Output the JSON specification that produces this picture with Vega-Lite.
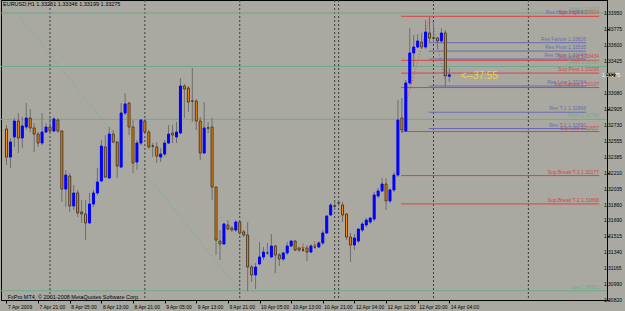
{
  "$schema": "https://vega.github.io/schema/vega-lite/v6.json",
  "width": 606,
  "height": 300,
  "autosize": {"type": "none"},
  "padding": {"left": 1, "top": 0, "right": 18, "bottom": 11},
  "background": "#a9a9a1",
  "config": {
    "view": {"stroke": "black", "strokeWidth": 1},
    "font": "Liberation Sans Narrow, Liberation Sans, sans-serif",
    "axis": {"labelFont": "Liberation Sans Narrow, Liberation Sans, sans-serif", "labelFontSize": 5, "labelColor": "#000000", "tickColor": "#000000", "domainColor": "#000000", "grid": false, "title": null, "labelOverlap": false, "labelFlush": false, "labelBound": false}
  },
  "title": {"text": "EURUSD,H1  1.33261 1.33346 1.33199 1.33275", "anchor": "start", "frame": "group", "orient": "top", "offset": -8, "fontSize": 5.5, "fontWeight": "normal", "color": "#000000", "font": "Liberation Sans Narrow, Liberation Sans, sans-serif", "dx": 2},
  "datasets": {
    "candles": [
      {"i":0,"o":1.32685,"h":1.32728,"l":1.32292,"c":1.32379},
      {"i":1,"o":1.32379,"h":1.32587,"l":1.32260,"c":1.32543},
      {"i":2,"o":1.32598,"h":1.32805,"l":1.32489,"c":1.32772},
      {"i":3,"o":1.32772,"h":1.32859,"l":1.32423,"c":1.32587},
      {"i":4,"o":1.32587,"h":1.32816,"l":1.32478,"c":1.32718},
      {"i":5,"o":1.32707,"h":1.32968,"l":1.32674,"c":1.32805},
      {"i":6,"o":1.32805,"h":1.32903,"l":1.32652,"c":1.32696},
      {"i":7,"o":1.32696,"h":1.32750,"l":1.32434,"c":1.32630},
      {"i":8,"o":1.32630,"h":1.32652,"l":1.32489,"c":1.32532},
      {"i":9,"o":1.32532,"h":1.32859,"l":1.32510,"c":1.32652},
      {"i":10,"o":1.32652,"h":1.32750,"l":1.32641,"c":1.32707},
      {"i":11,"o":1.32707,"h":1.32805,"l":1.32652,"c":1.32663},
      {"i":12,"o":1.32663,"h":1.32816,"l":1.32652,"c":1.32794},
      {"i":13,"o":1.32783,"h":1.32805,"l":1.32641,"c":1.32663},
      {"i":14,"o":1.32663,"h":1.32674,"l":1.31889,"c":1.32030},
      {"i":15,"o":1.32030,"h":1.32238,"l":1.31834,"c":1.32183},
      {"i":16,"o":1.32172,"h":1.32205,"l":1.31780,"c":1.31845},
      {"i":17,"o":1.31845,"h":1.32074,"l":1.31801,"c":1.31987},
      {"i":18,"o":1.31987,"h":1.32020,"l":1.31725,"c":1.31769},
      {"i":19,"o":1.31780,"h":1.31911,"l":1.31660,"c":1.31758},
      {"i":20,"o":1.31758,"h":1.31911,"l":1.31474,"c":1.31660},
      {"i":21,"o":1.31660,"h":1.31987,"l":1.31649,"c":1.31867},
      {"i":22,"o":1.31867,"h":1.32020,"l":1.31834,"c":1.31987},
      {"i":23,"o":1.31987,"h":1.32260,"l":1.31965,"c":1.32107},
      {"i":24,"o":1.32118,"h":1.32565,"l":1.32107,"c":1.32499},
      {"i":25,"o":1.32489,"h":1.32619,"l":1.32150,"c":1.32161},
      {"i":26,"o":1.32150,"h":1.32707,"l":1.32140,"c":1.32630},
      {"i":27,"o":1.32630,"h":1.32674,"l":1.32532,"c":1.32543},
      {"i":28,"o":1.32543,"h":1.32554,"l":1.32150,"c":1.32281},
      {"i":29,"o":1.32270,"h":1.32968,"l":1.32260,"c":1.32859},
      {"i":30,"o":1.32859,"h":1.33077,"l":1.32838,"c":1.32958},
      {"i":31,"o":1.32968,"h":1.32979,"l":1.32619,"c":1.32707},
      {"i":32,"o":1.32707,"h":1.32783,"l":1.32205,"c":1.32314},
      {"i":33,"o":1.32325,"h":1.32565,"l":1.32238,"c":1.32532},
      {"i":34,"o":1.32532,"h":1.32794,"l":1.32510,"c":1.32783},
      {"i":35,"o":1.32772,"h":1.32794,"l":1.32641,"c":1.32652},
      {"i":36,"o":1.32652,"h":1.32674,"l":1.32467,"c":1.32489},
      {"i":37,"o":1.32499,"h":1.32532,"l":1.32379,"c":1.32499},
      {"i":38,"o":1.32489,"h":1.32543,"l":1.32314,"c":1.32390},
      {"i":39,"o":1.32379,"h":1.32478,"l":1.32325,"c":1.32412},
      {"i":40,"o":1.32412,"h":1.32565,"l":1.32390,"c":1.32532},
      {"i":41,"o":1.32532,"h":1.32728,"l":1.32521,"c":1.32630},
      {"i":42,"o":1.32641,"h":1.32728,"l":1.32532,"c":1.32619},
      {"i":43,"o":1.32598,"h":1.32761,"l":1.32532,"c":1.32652},
      {"i":44,"o":1.32641,"h":1.33241,"l":1.32630,"c":1.33154},
      {"i":45,"o":1.33154,"h":1.33176,"l":1.32805,"c":1.33121},
      {"i":46,"o":1.33132,"h":1.33154,"l":1.32870,"c":1.32979},
      {"i":47,"o":1.32990,"h":1.33350,"l":1.32761,"c":1.32990},
      {"i":48,"o":1.32990,"h":1.33012,"l":1.32674,"c":1.32772},
      {"i":49,"o":1.32772,"h":1.32816,"l":1.32347,"c":1.32423},
      {"i":50,"o":1.32423,"h":1.32979,"l":1.32412,"c":1.32696},
      {"i":51,"o":1.32696,"h":1.32761,"l":1.32641,"c":1.32696},
      {"i":52,"o":1.32707,"h":1.32805,"l":1.31911,"c":1.32052},
      {"i":53,"o":1.32052,"h":1.32052,"l":1.31311,"c":1.31474},
      {"i":54,"o":1.31463,"h":1.31583,"l":1.31256,"c":1.31431},
      {"i":55,"o":1.31431,"h":1.31660,"l":1.31420,"c":1.31649},
      {"i":56,"o":1.31638,"h":1.31692,"l":1.31583,"c":1.31594},
      {"i":57,"o":1.31605,"h":1.31627,"l":1.31562,"c":1.31583},
      {"i":58,"o":1.31583,"h":1.31692,"l":1.31562,"c":1.31671},
      {"i":59,"o":1.31671,"h":1.31681,"l":1.31529,"c":1.31551},
      {"i":60,"o":1.31562,"h":1.31583,"l":1.31507,"c":1.31529},
      {"i":61,"o":1.31529,"h":1.31671,"l":1.30918,"c":1.31180},
      {"i":62,"o":1.31180,"h":1.31202,"l":1.31016,"c":1.31093},
      {"i":63,"o":1.31093,"h":1.31224,"l":1.30940,"c":1.31180},
      {"i":64,"o":1.31213,"h":1.31452,"l":1.31202,"c":1.31289},
      {"i":65,"o":1.31289,"h":1.31398,"l":1.31256,"c":1.31343},
      {"i":66,"o":1.31333,"h":1.31442,"l":1.31311,"c":1.31333},
      {"i":67,"o":1.31289,"h":1.31540,"l":1.31278,"c":1.31409},
      {"i":68,"o":1.31409,"h":1.31420,"l":1.31114,"c":1.31311},
      {"i":69,"o":1.31311,"h":1.31333,"l":1.31191,"c":1.31267},
      {"i":70,"o":1.31267,"h":1.31343,"l":1.31245,"c":1.31333},
      {"i":71,"o":1.31333,"h":1.31452,"l":1.31311,"c":1.31409},
      {"i":72,"o":1.31409,"h":1.31474,"l":1.31398,"c":1.31463},
      {"i":73,"o":1.31463,"h":1.31474,"l":1.31354,"c":1.31365},
      {"i":74,"o":1.31387,"h":1.31398,"l":1.31343,"c":1.31365},
      {"i":75,"o":1.31365,"h":1.31398,"l":1.31343,"c":1.31365},
      {"i":76,"o":1.31387,"h":1.31420,"l":1.31245,"c":1.31343},
      {"i":77,"o":1.31343,"h":1.31431,"l":1.31333,"c":1.31409},
      {"i":78,"o":1.31398,"h":1.31431,"l":1.31376,"c":1.31398},
      {"i":79,"o":1.31398,"h":1.31463,"l":1.31387,"c":1.31442},
      {"i":80,"o":1.31442,"h":1.31583,"l":1.31420,"c":1.31551},
      {"i":81,"o":1.31551,"h":1.31747,"l":1.31540,"c":1.31736},
      {"i":82,"o":1.31747,"h":1.31878,"l":1.31736,"c":1.31856},
      {"i":83,"o":1.31845,"h":1.31900,"l":1.31801,"c":1.31845},
      {"i":84,"o":1.31878,"h":1.31911,"l":1.31845,"c":1.31878},
      {"i":85,"o":1.31856,"h":1.31889,"l":1.31671,"c":1.31747},
      {"i":86,"o":1.31758,"h":1.31769,"l":1.31474,"c":1.31507},
      {"i":87,"o":1.31507,"h":1.31551,"l":1.31234,"c":1.31420},
      {"i":88,"o":1.31420,"h":1.31540,"l":1.31365,"c":1.31496},
      {"i":89,"o":1.31463,"h":1.31605,"l":1.31442,"c":1.31594},
      {"i":90,"o":1.31583,"h":1.31671,"l":1.31562,"c":1.31649},
      {"i":91,"o":1.31638,"h":1.31714,"l":1.31616,"c":1.31692},
      {"i":92,"o":1.31671,"h":1.31725,"l":1.31649,"c":1.31714},
      {"i":93,"o":1.31703,"h":1.31998,"l":1.31681,"c":1.31965},
      {"i":94,"o":1.31954,"h":1.32041,"l":1.31932,"c":1.32009},
      {"i":95,"o":1.32009,"h":1.32150,"l":1.31998,"c":1.32085},
      {"i":96,"o":1.32085,"h":1.32150,"l":1.31801,"c":1.31900},
      {"i":97,"o":1.31900,"h":1.32041,"l":1.31878,"c":1.32020},
      {"i":98,"o":1.32020,"h":1.32216,"l":1.31998,"c":1.32183},
      {"i":99,"o":1.32183,"h":1.33001,"l":1.32161,"c":1.32783},
      {"i":100,"o":1.32805,"h":1.33023,"l":1.32641,"c":1.32674},
      {"i":101,"o":1.32663,"h":1.33219,"l":1.32652,"c":1.33187},
      {"i":102,"o":1.33187,"h":1.33786,"l":1.33165,"c":1.33514},
      {"i":103,"o":1.33514,"h":1.33710,"l":1.33361,"c":1.33579},
      {"i":104,"o":1.33579,"h":1.33721,"l":1.33568,"c":1.33645},
      {"i":105,"o":1.33634,"h":1.33732,"l":1.33557,"c":1.33579},
      {"i":106,"o":1.33579,"h":1.33874,"l":1.33557,"c":1.33743},
      {"i":107,"o":1.33732,"h":1.33906,"l":1.33634,"c":1.33677},
      {"i":108,"o":1.33677,"h":1.33841,"l":1.33634,"c":1.33677},
      {"i":109,"o":1.33677,"h":1.33688,"l":1.33557,"c":1.33645},
      {"i":110,"o":1.33645,"h":1.33786,"l":1.33623,"c":1.33732},
      {"i":111,"o":1.33732,"h":1.33765,"l":1.33143,"c":1.33263},
      {"i":112,"o":1.33261,"h":1.33346,"l":1.33199,"c":1.33275}
    ],
    "seps": [{"i":11},{"i":35},{"i":59},{"i":83},{"i":84},{"i":108},{"i":132}],
    "yticks": [{"p":1.3395},{"p":1.33775},{"p":1.336},{"p":1.33425},{"p":1.3308},{"p":1.32905},{"p":1.3273},{"p":1.32555},{"p":1.32385},{"p":1.3221},{"p":1.32035},{"p":1.3186},{"p":1.3169},{"p":1.31515},{"p":1.3134},{"p":1.31165},{"p":1.3099},{"p":1.3082}],
    "levels": [
      {"kind":"Main","label":"High 1.33950","p":1.33950},
      {"kind":"Main","label":"Pivot 1.33367","p":1.33367},
      {"kind":"Main","label":"Short 1.32790","p":1.32790},
      {"kind":"Main","label":"Low 1.30921","p":1.30921},
      {"kind":"Res","label":"Res Failure 1.33626","p":1.33626},
      {"kind":"Res","label":"Res Pivot 1.33535","p":1.33535},
      {"kind":"Res","label":"Res Short 1.33448","p":1.33448},
      {"kind":"Res","label":"Res Low 1.33154","p":1.33154},
      {"kind":"Res","label":"Res T-1 1.32868","p":1.32868},
      {"kind":"Res","label":"Res T-2 1.32690","p":1.32690},
      {"kind":"Sup","label":"Sup High 1.33914","p":1.33914},
      {"kind":"Sup","label":"Sup Long 1.33434","p":1.33434},
      {"kind":"Sup","label":"Sup Pivot 1.33295","p":1.33295},
      {"kind":"Sup","label":"Sup Failure 1.33137","p":1.33137},
      {"kind":"Sup","label":"Sup Low 1.32657","p":1.32657},
      {"kind":"Sup","label":"Sup Break T-1 1.32177","p":1.32177},
      {"kind":"Sup","label":"Sup Break T-2 1.31868","p":1.31868}
    ],
    "tags": [{"kind":"Res","label":"Res High 1.33950","p":1.33950}],
    "trend": [
      {"kind":"Main","i":1.37,"p":1.34015,"i2":58.8,"p2":1.30929},
      {"kind":"Sup","i":100.6,"p":1.32895,"i2":107.1,"p2":1.33906},
      {"kind":"Res","i":107.8,"p":1.33852,"i2":110.8,"p2":1.33219}
    ],
    "arrows": [{"i":75,"p":1.31403},{"i":78,"p":1.31420}],
    "timer": [{"t":"<--37:55","i":114.8,"p":1.33263}],
    "current": [{"t":"1.33275","p":1.33275}],
    "notes": [{"t":"FxPro MT4, © 2001-2008 MetaQuotes Software Corp."}]
  },
  "layer": [
    {
      "data": {"name": "seps"},
      "mark": {"type": "rule", "strokeDash": [2, 2], "color": "#3c3c3c", "strokeWidth": 1},
      "encoding": {
        "x": {
          "field": "i", "type": "quantitative",
          "scale": {"domain": [-0.124, 150.62], "nice": false, "zero": false},
          "title": null,
          "axis": {
            "orient": "bottom",
            "values": [0, 8, 16, 24, 32, 40, 48, 56, 64, 72, 80, 88, 96, 104, 112],
            "labelExpr": "['7 Apr 2009','7 Apr 21:00','8 Apr 05:00','8 Apr 13:00','8 Apr 21:00','9 Apr 05:00','9 Apr 13:00','9 Apr 21:00','10 Apr 05:00','10 Apr 13:00','10 Apr 21:00','12 Apr 04:00','12 Apr 12:00','12 Apr 20:00','14 Apr 04:00'][round(datum.value/8)]",
            "labelAlign": "left",
            "labelOffset": 1,
            "labelPadding": 1,
            "labelFontSize": 5,
            "tickSize": 3,
            "labelFlush": false,
            "labelOverlap": false,
            "labelBound": false,
            "grid": false
          }
        }
      }
    },
    {
      "data": {"name": "levels"},
      "transform": [{"filter": "datum.kind === 'Main'"}],
      "mark": {"type": "rule", "strokeWidth": 1},
      "encoding": {
        "y": {
          "field": "p", "type": "quantitative",
          "scale": {"domain": [1.3082, 1.34092], "nice": false, "zero": false},
          "title": null,
          "axis": {
            "orient": "right",
            "values": [1.3395, 1.33775, 1.336, 1.33425, 1.3308, 1.32905, 1.3273, 1.32555, 1.32385, 1.3221, 1.32035, 1.3186, 1.3169, 1.31515, 1.3134, 1.31165, 1.3099, 1.3082],
            "labels": false,
            "tickSize": 2,
            "grid": false
          }
        },
        "color": {"field": "kind", "type": "nominal", "scale": {"domain": ["Main", "Res", "Sup"], "range": ["#6fa98c", "#6a6ab2", "#d84444"]}, "legend": null}
      }
    },
    {
      "data": {"name": "yticks"},
      "mark": {"type": "text", "align": "left", "baseline": "middle", "fontSize": 5, "color": "#000000"},
      "encoding": {
        "x": {"datum": 151.1, "type": "quantitative", "scale": {"domain": [-0.124, 150.62], "nice": false, "zero": false}, "title": null},
        "y": {"field": "p", "type": "quantitative", "scale": {"domain": [1.3082, 1.34092], "nice": false, "zero": false}, "title": null},
        "text": {"field": "p", "type": "quantitative", "format": ".5f"}
      }
    },
    {
      "data": {"name": "levels"},
      "transform": [{"filter": "datum.kind === 'Sup'"}],
      "mark": {"type": "rule", "strokeWidth": 1},
      "encoding": {
        "x": {"datum": 99.8, "type": "quantitative", "scale": {"domain": [-0.124, 150.62], "nice": false, "zero": false}, "title": null},
        "x2": {"datum": 149.9},
        "y": {"field": "p", "type": "quantitative", "scale": {"domain": [1.3082, 1.34092], "nice": false, "zero": false}, "title": null},
        "color": {"field": "kind", "type": "nominal", "legend": null}
      }
    },
    {
      "data": {"name": "levels"},
      "transform": [{"filter": "datum.kind === 'Res'"}],
      "mark": {"type": "rule", "strokeWidth": 1},
      "encoding": {
        "x": {"datum": 106.8, "type": "quantitative", "scale": {"domain": [-0.124, 150.62], "nice": false, "zero": false}, "title": null},
        "x2": {"datum": 146.6},
        "y": {"field": "p", "type": "quantitative", "scale": {"domain": [1.3082, 1.34092], "nice": false, "zero": false}, "title": null},
        "color": {"field": "kind", "type": "nominal", "legend": null}
      }
    },
    {
      "data": {"name": "trend"},
      "mark": {"type": "rule", "strokeWidth": 1, "strokeDash": [1, 2]},
      "encoding": {
        "x": {"field": "i", "type": "quantitative", "scale": {"domain": [-0.124, 150.62], "nice": false, "zero": false}, "title": null},
        "x2": {"field": "i2"},
        "y": {"field": "p", "type": "quantitative", "scale": {"domain": [1.3082, 1.34092], "nice": false, "zero": false}, "title": null},
        "y2": {"field": "p2"},
        "color": {"field": "kind", "type": "nominal", "legend": null}
      }
    },
    {
      "data": {"name": "candles"},
      "mark": {"type": "rule", "color": "#6e6e6e", "strokeWidth": 1},
      "encoding": {
        "x": {"field": "i", "type": "quantitative", "scale": {"domain": [-0.124, 150.62], "nice": false, "zero": false}, "title": null},
        "y": {"field": "l", "type": "quantitative", "scale": {"domain": [1.3082, 1.34092], "nice": false, "zero": false}, "title": null},
        "y2": {"field": "h"}
      }
    },
    {
      "data": {"name": "candles"},
      "mark": {"type": "bar", "size": 2, "strokeWidth": 1},
      "encoding": {
        "x": {"field": "i", "type": "quantitative", "scale": {"domain": [-0.124, 150.62], "nice": false, "zero": false}, "title": null},
        "y": {"field": "o", "type": "quantitative", "scale": {"domain": [1.3082, 1.34092], "nice": false, "zero": false}, "title": null},
        "y2": {"field": "c"},
        "fill": {"condition": [{"test": "datum.c > datum.o", "value": "#0000ff"}, {"test": "datum.c < datum.o", "value": "#ff8c00"}], "value": "#2a2a2a"},
        "stroke": {"condition": [{"test": "datum.c > datum.o", "value": "#0000ff"}, {"test": "datum.c < datum.o", "value": "#4a3a28"}], "value": "#2a2a2a"}
      }
    },
    {
      "data": {"name": "arrows"},
      "mark": {"type": "text", "text": "↓", "font": "DejaVu Sans", "fontSize": 8, "color": "#e02828", "baseline": "middle", "align": "center"},
      "encoding": {
        "x": {"field": "i", "type": "quantitative", "scale": {"domain": [-0.124, 150.62], "nice": false, "zero": false}, "title": null},
        "y": {"field": "p", "type": "quantitative", "scale": {"domain": [1.3082, 1.34092], "nice": false, "zero": false}, "title": null}
      }
    },
    {
      "data": {"name": "levels"},
      "transform": [{"filter": "datum.kind === 'Res'"}],
      "mark": {"type": "text", "align": "right", "baseline": "bottom", "dy": -1, "fontSize": 5},
      "encoding": {
        "x": {"datum": 146.6, "type": "quantitative", "scale": {"domain": [-0.124, 150.62], "nice": false, "zero": false}, "title": null},
        "y": {"field": "p", "type": "quantitative", "scale": {"domain": [1.3082, 1.34092], "nice": false, "zero": false}, "title": null},
        "text": {"field": "label"},
        "color": {"field": "kind", "type": "nominal", "legend": null}
      }
    },
    {
      "data": {"name": "tags"},
      "mark": {"type": "text", "align": "right", "baseline": "bottom", "dy": 2, "fontSize": 5},
      "encoding": {
        "x": {"datum": 146.6, "type": "quantitative", "scale": {"domain": [-0.124, 150.62], "nice": false, "zero": false}, "title": null},
        "y": {"field": "p", "type": "quantitative", "scale": {"domain": [1.3082, 1.34092], "nice": false, "zero": false}, "title": null},
        "text": {"field": "label"},
        "color": {"field": "kind", "type": "nominal", "legend": null}
      }
    },
    {
      "data": {"name": "levels"},
      "transform": [{"filter": "datum.kind !== 'Res'"}],
      "mark": {"type": "text", "align": "right", "baseline": "bottom", "dy": -1, "fontSize": 5},
      "encoding": {
        "x": {"datum": 149.9, "type": "quantitative", "scale": {"domain": [-0.124, 150.62], "nice": false, "zero": false}, "title": null},
        "y": {"field": "p", "type": "quantitative", "scale": {"domain": [1.3082, 1.34092], "nice": false, "zero": false}, "title": null},
        "text": {"field": "label"},
        "color": {"field": "kind", "type": "nominal", "legend": null}
      }
    },
    {
      "data": {"name": "timer"},
      "mark": {"type": "text", "align": "left", "baseline": "middle", "fontSize": 10, "font": "Liberation Sans", "color": "#ecd63c"},
      "encoding": {
        "x": {"field": "i", "type": "quantitative", "scale": {"domain": [-0.124, 150.62], "nice": false, "zero": false}, "title": null},
        "y": {"field": "p", "type": "quantitative", "scale": {"domain": [1.3082, 1.34092], "nice": false, "zero": false}, "title": null},
        "text": {"field": "t"}
      }
    },
    {
      "data": {"name": "notes"},
      "mark": {"type": "text", "align": "left", "baseline": "alphabetic", "fontSize": 5.5, "color": "#000000"},
      "encoding": {
        "x": {"datum": 0.3, "type": "quantitative", "scale": {"domain": [-0.124, 150.62], "nice": false, "zero": false}, "title": null},
        "y": {"datum": 1.30831, "type": "quantitative", "scale": {"domain": [1.3082, 1.34092], "nice": false, "zero": false}, "title": null},
        "text": {"field": "t"}
      }
    },
    {
      "data": {"name": "current"},
      "mark": {"type": "point", "shape": "M-1,-0.45H1V0.45H-1Z", "size": 81, "filled": true, "color": "#000000", "opacity": 1},
      "encoding": {
        "x": {"datum": 152.9, "type": "quantitative", "scale": {"domain": [-0.124, 150.62], "nice": false, "zero": false}, "title": null},
        "y": {"field": "p", "type": "quantitative", "scale": {"domain": [1.3082, 1.34092], "nice": false, "zero": false}, "title": null}
      }
    },
    {
      "data": {"name": "current"},
      "mark": {"type": "text", "align": "center", "baseline": "middle", "fontSize": 5, "color": "#ffffff"},
      "encoding": {
        "x": {"datum": 152.9, "type": "quantitative", "scale": {"domain": [-0.124, 150.62], "nice": false, "zero": false}, "title": null},
        "y": {"field": "p", "type": "quantitative", "scale": {"domain": [1.3082, 1.34092], "nice": false, "zero": false}, "title": null},
        "text": {"field": "t"}
      }
    }
  ]
}
